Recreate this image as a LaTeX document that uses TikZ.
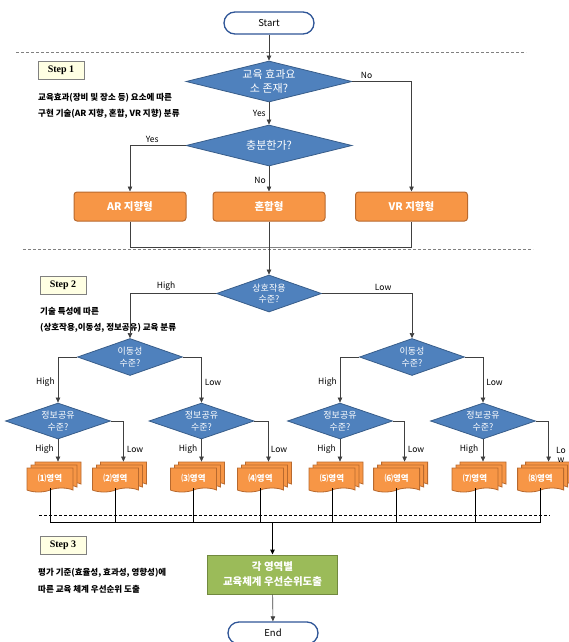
\documentclass[tikz,border=0pt]{standalone}
\usepackage{fontspec}
\setmainfont{Noto Sans CJK KR}
\newfontfamily\stepfont{Liberation Serif}
\usetikzlibrary{shapes.geometric,shapes.symbols,arrows.meta}
\definecolor{termblue}{HTML}{2F5597}
\definecolor{fblue}{HTML}{4F81BD}
\definecolor{dblue}{HTML}{385D8A}
\definecolor{forange}{HTML}{F79646}
\definecolor{dorange}{HTML}{B8692E}
\definecolor{fgreen}{HTML}{9BBB59}
\definecolor{dgreen}{HTML}{71893F}
\definecolor{stepyellow}{HTML}{FFFFE3}
\definecolor{lineg}{HTML}{404040}

\begin{document}
\begin{tikzpicture}[x=1pt,y=1pt,>={Triangle[length=5pt,width=4.5pt]}]
		\tikzstyle{term}=[rectangle,rounded corners=11pt,draw=termblue,line width=1.3pt,fill=white,minimum width=90pt,minimum height=22pt,font=\fontsize{9.5}{10}\selectfont]
		\tikzstyle{decision}=[diamond,aspect=4,inner sep=0,draw=dblue,line width=0.8pt,fill=fblue,text=white,align=center,minimum width=166pt,minimum height=41pt,font=\fontsize{11}{14}\selectfont]
		\tikzstyle{smalldec}=[decision,aspect=2.9,minimum width=105pt,minimum height=37pt,font=\fontsize{9}{11.5}\selectfont]
		\tikzstyle{kind}=[rectangle,rounded corners=3pt,draw=dorange,line width=1pt,fill=forange,text=white,minimum width=112pt,minimum height=29pt,font=\fontsize{10.5}{12}\selectfont\bfseries]
		\tikzstyle{page}=[tape,tape bend top=none,tape bend bottom=in and out,tape bend height=4pt,draw=dorange,line width=0.8pt,fill=forange,minimum width=46pt,minimum height=24pt,inner sep=0]
		\tikzstyle{stepbox}=[rectangle,draw=gray,line width=0.6pt,fill=stepyellow,minimum width=46pt,minimum height=18pt,font=\stepfont\fontsize{10}{11}\selectfont\bfseries]
		\tikzstyle{note}=[anchor=west,inner sep=0,font=\fontsize{8.5}{10}\selectfont\bfseries]
		\tikzstyle{lab}=[inner sep=0,font=\fontsize{8.5}{9.5}\selectfont]
		\tikzstyle{flow}=[draw=lineg,line width=0.6pt]

		\useasboundingbox (0,0) rectangle (569,-642);

		\draw[gray,dash pattern=on 3pt off 2pt] (16,-52) -- (526,-52);
		\draw[gray,dash pattern=on 3pt off 2pt] (23,-249) -- (533,-249);
		\draw[black,dash pattern=on 3pt off 2pt] (39,-515) -- (550,-515);

		\node[term] (start) at (269,-23) {Start};
		\node[decision] (d1) at (269,-81.5) {교육 효과요\\소 존재?};
		\node[decision] (d2) at (269,-145.5) {충분한가?};
		\node[kind] (ar) at (130,-206.5) {AR 지향형};
		\node[kind] (mix) at (269,-206.5) {혼합형};
		\node[kind] (vr) at (411.5,-206.5) {VR 지향형};

		\node[stepbox] (st1) at (61,-70) {Step 1};
		\node[note] (n1a) at (38,-98) {교육효과(장비 및 장소 등) 요소에 따른};
		\node[note] (n1b) at (38,-114) {구현 기술(AR 지향, 혼합, VR 지향) 분류};

		\draw[flow,->] (start) -- (d1);
		\draw[flow,->] (d1) -- (d2) node[lab,pos=0.5,left=3pt] (y1) {Yes};
		\draw[flow,->] (d1.east) -| (vr.north) node[lab,pos=0.12,above=3pt] (no1) {No};
		\draw[flow,->] (d2.west) -| (ar.north) node[lab,pos=0.3,above=3pt] (y2) {Yes};
		\draw[flow,->] (d2) -- (mix) node[lab,pos=0.55,left=3pt] (no2) {No};

		\coordinate (j1) at (269,-247);
		\draw[flow] (ar.south) |- (j1) -| (vr.south);
		\draw[flow] (mix.south) -- (j1);

		\node[stepbox] (st2) at (63,-285) {Step 2};
		\node[note] (n2a) at (40,-311) {기술 특성에 따른};
		\node[note] (n2b) at (40,-328) {(상호작용,이동성, 정보공유) 교육 분류};

		\node[smalldec] (d3) at (269,-293.5) {상호작용\\수준?};
		\node[smalldec] (m1) at (130,-357) {이동성\\수준?};
		\node[smalldec] (m2) at (412,-357) {이동성\\수준?};
		\draw[flow,->] (j1) -- (d3);
		\draw[flow,->] (d3.west) -| (m1.north) node[lab,pos=0.29,above=3pt] (h0) {High};
		\draw[flow,->] (d3.east) -| (m2.north) node[lab,pos=0.34,above=3pt] (l0) {Low};

		\foreach \n/\x in {1/58,2/201.5,3/340,4/483}
			\node[smalldec,minimum height=36pt] (q\n) at (\x,-421) {정보공유\\수준?};
		\draw[flow,->] (m1.west) -| (q1.north) node[lab,pos=0.78,left=3pt] (h1) {High};
		\draw[flow,->] (m1.east) -| (q2.north) node[lab,pos=0.78,right=3pt] (l1) {Low};
		\draw[flow,->] (m2.west) -| (q3.north) node[lab,pos=0.78,left=3pt] (h2) {High};
		\draw[flow,->] (m2.east) -| (q4.north) node[lab,pos=0.78,right=3pt] (l2) {Low};

		\foreach \i/\x/\t in {1/58/⑴,2/123.4/⑵,3/201.5/⑶,4/268.5/⑷,5/340/⑸,6/404.6/⑹,7/483/⑺,8/548.6/⑻}{
			\node[page] (back\i) at (\x,-472) {};
			\node[page] (mid\i) at (\x-4,-475) {};
			\node[page,text=white,font=\fontsize{8.5}{9}\selectfont\bfseries] (doc\i) at (\x-8,-478) {\t 영역};
		}
		\foreach \n/\a/\b in {1/1/2,2/3/4,3/5/6,4/7/8}{
			\draw[flow,->] (q\n.south) -- (q\n.south |- back\a.north);
			\draw[flow,->] (q\n.east) -| (back\b.north);
		}
		\node[lab] (hq1) at (44.5,-449) {High};
		\node[lab] (lq1) at (135,-449) {Low};
		\node[lab] (hq2) at (188,-449) {High};
		\node[lab] (lq2) at (279,-449) {Low};
		\node[lab] (hq3) at (326.5,-449) {High};
		\node[lab] (lq3) at (416,-449) {Low};
		\node[lab] (hq4) at (469,-449) {High};
		\node[lab,align=center] (lq4) at (561,-455) {Lo\\w};

		\coordinate (join) at (272.5,-522);
		\foreach \i in {1,...,8}
			\draw[black,line width=0.6pt] (doc\i.south) -- (doc\i.south |- join);
		\draw[black,line width=0.6pt] (doc1.south |- join) -- (doc8.south |- join);

		\node[stepbox] (st3) at (63,-545) {Step 3};
		\node[note] (n3a) at (38,-573) {평가 기준(효율성, 효과성, 영향성)에};
		\node[note] (n3b) at (38,-589) {따른 교육 체계 우선순위 도출};

		\node[rectangle,draw=dgreen,line width=1pt,fill=fgreen,text=white,align=center,minimum width=130pt,minimum height=39pt,font=\fontsize{10.5}{15}\selectfont\bfseries] (res) at (272.5,-574.5) {각 영역별\\교육체계 우선순위도출};
		\node[term] (end) at (273,-633) {End};

		\draw[black,line width=1.2pt,->] (join) -- (res);
		\draw[flow,->] (res) -- (end);
	\end{tikzpicture}
\end{document}
